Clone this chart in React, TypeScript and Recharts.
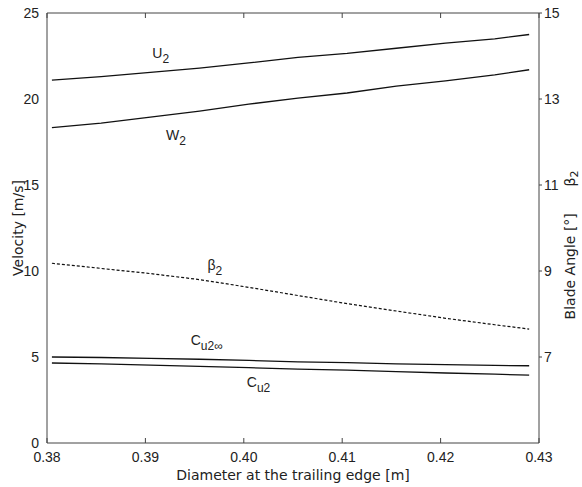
import { Line, LineChart, ReferenceDot, XAxis, YAxis } from "recharts";

const diameters = [0.3805, 0.3855, 0.3905, 0.3955, 0.4005, 0.4055, 0.4105, 0.4155, 0.4205, 0.4255, 0.429];
const u2 = [21.1, 21.3, 21.55, 21.8, 22.1, 22.42, 22.65, 22.95, 23.25, 23.5, 23.75];
const w2 = [18.33, 18.6, 18.95, 19.3, 19.7, 20.05, 20.35, 20.75, 21.05, 21.4, 21.7];
const beta2 = [9.18, 9.06, 8.94, 8.8, 8.62, 8.43, 8.24, 8.07, 7.9, 7.75, 7.65];
const cu2inf = [5.0, 4.97, 4.92, 4.87, 4.8, 4.72, 4.67, 4.6, 4.56, 4.51, 4.49];
const cu2 = [4.65, 4.6, 4.53, 4.46, 4.38, 4.3, 4.24, 4.15, 4.07, 4.0, 3.95];

const xTicks = [0.38, 0.39, 0.4, 0.41, 0.42, 0.43];
const leftTicks = [0, 5, 10, 15, 20, 25];
const rightTicks = [7, 9, 11, 13, 15];

// curve labels: [x, y (velocity scale), main, subscript]
const labels: [number, number, string, string][] = [
  [0.3907, 22.4, "U", "2"],
  [0.3921, 17.6, "W", "2"],
  [0.3963, 10.06, "β", "2"],
  [0.3946, 5.7, "C", "u2∞"],
  [0.4003, 3.26, "C", "u2"],
];

const data = diameters.map((d, i) => ({
  d,
  u2: u2[i],
  w2: w2[i],
  beta2: beta2[i],
  cu2inf: cu2inf[i],
  cu2: cu2[i],
}));

const sans = "'Liberation Sans', Arial, Helvetica, sans-serif";
const titleFont = "'DejaVu Sans', sans-serif";
const tickFont = { fill: "#222", fontSize: 14, style: { fontFamily: sans } };
const axisStroke = "#444";
const noTick = () => <g />;

type VB = { viewBox?: { x: number; y: number; width: number; height: number } };

const LeftTitle = ({ viewBox }: VB) => {
  if (!viewBox) return null;
  const x = viewBox.x + 18;
  const y = viewBox.y + viewBox.height / 2;
  return (
    <text x={x} y={y} transform={`rotate(-90 ${x} ${y})`} textAnchor="middle" dominantBaseline="central" fill="#222" fontSize={14} style={{ fontFamily: titleFont }}>
      Velocity [m/s]
    </text>
  );
};

const RightTitle = ({ viewBox }: VB) => {
  if (!viewBox) return null;
  const x = viewBox.x + 31;
  const y = viewBox.y + viewBox.height / 2 + 17;
  return (
    <text x={x} y={y} transform={`rotate(-90 ${x} ${y})`} textAnchor="middle" dominantBaseline="central" fill="#222" fontSize={14} style={{ fontFamily: titleFont, whiteSpace: "pre" }}>
      {"Blade Angle [°]      β"}
      <tspan dy={4} fontSize={11}>2</tspan>
    </text>
  );
};

export default function App() {
  return (
    <div style={{ position: "absolute", left: 0, top: 0, background: "#fff" }}>
      <LineChart width={582} height={487} data={data} margin={{ top: 13, right: 0, bottom: 0, left: 0 }}>
        <XAxis
          dataKey="d"
          type="number"
          domain={[0.38, 0.43]}
          ticks={xTicks}
          tickFormatter={(v: number) => v.toFixed(2)}
          tick={tickFont}
          tickLine={false}
          tickMargin={3}
          height={44}
          stroke={axisStroke}
          label={{ value: "Diameter at the trailing edge [m]", position: "insideBottom", offset: 7, fill: "#222", fontSize: 14, style: { fontFamily: titleFont } }}
        />
        <XAxis xAxisId="bin" dataKey="d" type="number" domain={[0.38, 0.43]} ticks={xTicks} orientation="bottom" mirror tick={noTick} tickSize={5} axisLine={false} stroke={axisStroke} />
        <XAxis xAxisId="top" dataKey="d" type="number" domain={[0.38, 0.43]} ticks={xTicks} orientation="top" mirror tick={noTick} tickSize={5} stroke={axisStroke} />
        <YAxis
          yAxisId="v"
          domain={[0, 25]}
          ticks={leftTicks}
          tick={tickFont}
          tickLine={false}
          tickMargin={2}
          width={47}
          stroke={axisStroke}
          label={<LeftTitle />}
        />
        <YAxis
          yAxisId="b"
          orientation="right"
          domain={[5, 15]}
          ticks={rightTicks}
          tick={tickFont}
          tickSize={3}
          tickMargin={2}
          width={43}
          stroke={axisStroke}
          label={<RightTitle />}
        />
        <Line yAxisId="v" dataKey="u2" stroke="#111" strokeWidth={1.3} dot={false} isAnimationActive={false} type="linear" />
        <Line yAxisId="v" dataKey="w2" stroke="#111" strokeWidth={1.3} dot={false} isAnimationActive={false} type="linear" />
        <Line yAxisId="b" dataKey="beta2" stroke="#111" strokeWidth={1.2} strokeDasharray="3 2" dot={false} isAnimationActive={false} type="linear" />
        <Line yAxisId="v" dataKey="cu2inf" stroke="#111" strokeWidth={1.3} dot={false} isAnimationActive={false} type="linear" />
        <Line yAxisId="v" dataKey="cu2" stroke="#111" strokeWidth={1.3} dot={false} isAnimationActive={false} type="linear" />
        {labels.map(([x, y, main, sub]) => (
          <ReferenceDot
            key={main + sub}
            yAxisId="v"
            x={x}
            y={y}
            r={0}
            shape={(p: { cx: number; cy: number }) => (
              <text x={p.cx} y={p.cy} fill="#222" fontSize={14} style={{ fontFamily: sans }}>
                {main}
                <tspan dy={5} fontSize={12}>{sub}</tspan>
              </text>
            )}
          />
        ))}
      </LineChart>
    </div>
  );
}
